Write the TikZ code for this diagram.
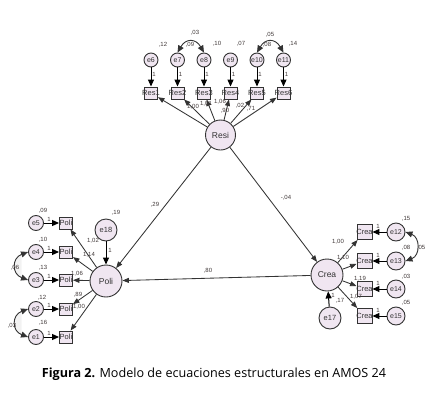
\documentclass[tikz,border=0pt]{standalone}
\usepackage{fontspec}
\setmainfont{Liberation Sans}
\newfontfamily\capfont{Open Sans}
\usetikzlibrary{arrows.meta}
\definecolor{semink}{HTML}{333333}
\definecolor{semfill}{HTML}{F0E6F1}
\definecolor{semnum}{HTML}{403838}
\tikzset{
  sem latent/.style={circle, draw=semink, fill=semfill, line width=0.9pt, inner sep=0pt,
    minimum size=30pt, font=\fontsize{8.5}{9}\selectfont, text=semink},
  sem error/.style={circle, draw=semink, fill=semfill, line width=0.9pt, inner sep=0pt,
    minimum size=14pt, label={[font=\fontsize{7}{8}\selectfont, text=semink]center:#1}},
  sem box/.style={rectangle, draw=semink, fill=semfill, line width=0.9pt, inner sep=0pt,
    minimum width=13pt, minimum height=12pt, label={[font=\fontsize{7.5}{8}\selectfont, text=semink]center:#1}},
  sem path/.style={-{Triangle[length=6.5pt,width=5pt]}, draw=semink, line width=0.85pt},
  sem fix/.style={-{Triangle[length=7pt,width=6pt]}, draw=black, line width=1pt},
  sem cov/.style={{Triangle[length=7pt,width=6pt]}-{Triangle[length=7pt,width=6pt]},
    draw=semink, line width=0.9pt},
  sem num/.style={font=\fontsize{6}{7}\selectfont, text=semnum, inner sep=0pt}
}

\begin{document}
\begin{tikzpicture}[x=1pt, y=-1pt]
  \useasboundingbox (0,0) rectangle (429,413);
  % latent factors and their disturbances
  \node[sem latent] (resi) at (220.5,135) {Resi};
  \node[sem latent, minimum size=32pt] (poli) at (106,281) {Poli};
  \node[sem latent, minimum size=32pt] (crea) at (327,275) {Crea};
  \node[sem latent, minimum size=22pt, font=\fontsize{7.5}{8}\selectfont] (e18) at (106,230) {e18};
  \node[sem latent, minimum size=22pt, font=\fontsize{7.5}{8}\selectfont] (e17) at (330,318) {e17};
  \draw[sem fix] (e18) -- (poli);
  \draw[sem fix] (e17) -- (crea);

  % Resi indicators
  \foreach \i/\e [count=\k from 0] in {1/6,2/7,3/8,4/9,5/10,6/11} {
    \node[sem box=Res\i] (res\i) at ({151+26.5*\k},93) {};
    \node[sem error=e\e] (e\e) at ({151+26.5*\k},60) {};
    \draw[sem fix] (e\e) -- (res\i);
    \draw[sem path] (resi) -- (res\i);
    \node[sem num] at ({154+26.5*\k},74) {1};
  }
  \draw[sem cov] (e7.north) to[out=60,in=120,looseness=1.6] (e8.north);
  \draw[sem cov] (e10.north) to[out=60,in=120,looseness=1.6] (e11.north);

  % Poli indicators
  \foreach \i/\e/\y in {1/5/223,2/4/252,3/3/280,4/2/309,5/1/337} {
    \node[sem box=Poli] (poli\i) at (66,\y) {};
    \node[sem error=e\e, minimum size=15pt] (e\e) at (36,\y) {};
    \draw[sem fix] (e\e) -- (poli\i);
    \draw[sem path] (poli) -- (poli\i);
    \node[sem num] at (49,\y-4) {1};
  }
  \draw[sem cov, fill=black!5] (e4.west) to[out=200,in=160,looseness=1.6] (e3.west);
  \draw[sem cov, fill=black!5] (e2.west) to[out=200,in=160,looseness=1.6] (e1.west);

  % Crea indicators
  \foreach \i/\e/\y in {1/12/232,2/13/261,3/14/289,4/15/316} {
    \node[sem box=Crea, minimum width=15pt, minimum height=15pt] (crea\i) at (364.5,\y) {};
    \node[sem error=e\e, minimum size=18pt] (e\e) at (396,\y) {};
    \draw[sem fix] (e\e) -- (crea\i);
    \draw[sem path] (crea) -- (crea\i);
    \node[sem num] at (378,\y-6) {1};
  }
  \draw[sem cov] (e12.east) to[out=-20,in=20,looseness=1.4] (e13.east);

  % structural paths
  \draw[sem path] (resi) -- (poli);
  \draw[sem path] (resi) -- (crea);
  \draw[sem path] (crea) -- (poli);

  % estimates
  \node[sem num] at (163,45) {,12};
  \node[sem num] at (190,45) {,09};
  \node[sem num] at (195,33) {,03};
  \node[sem num] at (217,44) {,10};
  \node[sem num] at (241,44) {,07};
  \node[sem num] at (267,45) {,08};
  \node[sem num] at (270,35) {,05};
  \node[sem num] at (293,44) {,14};
  \node[sem num] at (193,107) {1,00};
  \node[sem num] at (206,104) {1,01};
  \node[sem num] at (220,102) {1,06};
  \node[sem num] at (225,111) {,90};
  \node[sem num] at (240,106) {,02};
  \node[sem num] at (251,109) {,71};
  \node[sem num] at (155,205) {,29};
  \node[sem num] at (286,198) {-,04};
  \node[sem num] at (208,271) {,80};
  \node[sem num] at (116,213) {,19};
  \node[sem num] at (110,250) {1};
  \node[sem num] at (93,241) {1,02};
  \node[sem num] at (89,255) {1,14};
  \node[sem num] at (77,274) {1,06};
  \node[sem num] at (78,295) {,89};
  \node[sem num] at (79,307) {1,00};
  \node[sem num] at (43,211) {,09};
  \node[sem num] at (43,240) {,10};
  \node[sem num] at (43,268) {,13};
  \node[sem num] at (15,268) {,06};
  \node[sem num] at (42,298) {,12};
  \node[sem num] at (43,323) {,16};
  \node[sem num] at (12,326) {,03};
  \node[sem num] at (406,219) {,15};
  \node[sem num] at (406,248) {,08};
  \node[sem num] at (421,248) {,05};
  \node[sem num] at (406,277) {,03};
  \node[sem num] at (406,303) {,05};
  \node[sem num] at (338,242) {1,00};
  \node[sem num] at (343,258) {1,10};
  \node[sem num] at (360,279) {1,19};
  \node[sem num] at (356,297) {1,07};
  \node[sem num] at (340,301) {,17};
  \node[sem num] at (333,295) {1};

  % caption
  \node[font=\capfont\fontsize{12.6}{14}\selectfont, text=black] (cap) at (214,374)
    {\textbf{Figura 2.} Modelo de ecuaciones estructurales en AMOS 24};
\end{tikzpicture}
\end{document}
